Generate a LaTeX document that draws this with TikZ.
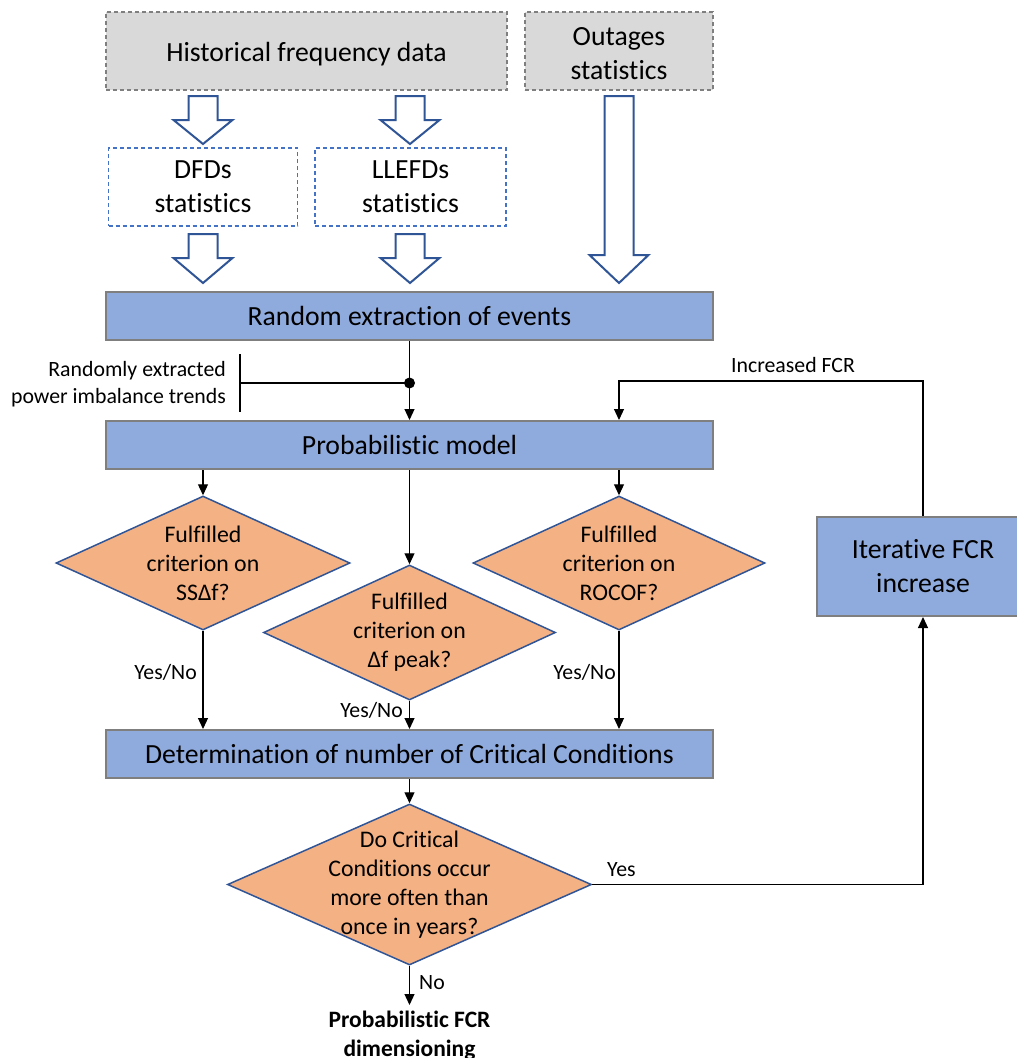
\documentclass[tikz,border=0pt]{standalone}
\usepackage{fontspec}
\setmainfont{Carlito}[RawFeature={-liga;-clig;-calt;-dlig}]
\usetikzlibrary{shapes.geometric,arrows.meta,calc}
\definecolor{grayfill}{HTML}{D9D9D9}
\definecolor{grayline}{HTML}{7F7F7F}
\definecolor{bluefill}{HTML}{8FAADC}
\definecolor{orangefill}{HTML}{F4B183}
\definecolor{darkblue}{HTML}{2F5597}
\definecolor{midblue}{HTML}{4472C4}
\tikzset{
  bigfont/.style={font=\fontsize{27.7}{34}\selectfont},
  databox/.style={draw=grayline, fill=grayfill, dash pattern=on 4pt off 3pt, line width=1.3pt, bigfont, align=center, inner sep=0pt},
  statbox/.style={draw=midblue, fill=white, dash pattern=on 4pt off 3pt, line width=1.3pt, bigfont, align=center, inner sep=0pt},
  procbox/.style={draw=grayline, fill=bluefill, line width=2pt, bigfont, align=center, inner sep=0pt},
  dia/.style={diamond, draw=darkblue, fill=orangefill, line width=1.5pt, inner sep=0pt},
  diatext/.style={font=\fontsize{23.8}{29}\selectfont, align=center, inner sep=0pt},
  lbl/.style={font=\fontsize{21.8}{27}\selectfont, inner sep=0pt},
  arr/.style={-{Triangle[length=11pt,width=10pt]}, line width=1.2pt},
  conn/.style={line width=1.2pt},
  blockarrow/.style={draw=darkblue, fill=white, line width=2pt, line join=miter}
}
\newcommand{\barrow}[4]{\draw[blockarrow] (#1-14.5,#2) -- (#1+14.5,#2) -- (#1+14.5,#3) -- (#1+29.5,#3) -- (#1,#4) -- (#1-29.5,#3) -- (#1-14.5,#3) -- cycle;}
\begin{document}
\begin{tikzpicture}[x=1pt,y=-1pt]
\useasboundingbox (0,0) rectangle (1017,1058);
% top boxes
\node[databox, minimum width=401, minimum height=78] (hist) at (306.5,51) {};
\node[bigfont, inner sep=0pt] (histt) at (306.5,54) {Historical frequency data};
\node[databox, minimum width=188, minimum height=78] (outg) at (619,51) {};
\node[bigfont, align=center, inner sep=0pt] (outgt) at (619,54) {Outages\\statistics};
\node[statbox, minimum width=189, minimum height=78] (dfd) at (203,187) {DFDs\\statistics};
\node[statbox, minimum width=191, minimum height=78] (llefd) at (410.5,187) {LLEFDs\\statistics};
% block arrows
\barrow{203}{96}{120}{144}
\barrow{410}{96}{120}{144}
\barrow{203}{234}{258}{283}
\barrow{410}{234}{258}{283}
\barrow{619}{96}{255}{283}
% process boxes
\node[procbox, minimum width=607, minimum height=48] (rand) at (409.5,316) {Random extraction of events};
\node[procbox, minimum width=607, minimum height=48] (prob) at (409.5,445) {Probabilistic model};
\node[procbox, minimum width=607, minimum height=48] (det) at (409.5,754) {Determination of number of Critical Conditions};
\node[procbox, minimum width=212, minimum height=99] (iter) at (923,566.5) {Iterative FCR\\increase};
% diamonds
\node[dia, minimum width=294, minimum height=134] (d1) at (203,563) {};
\node[diatext] (d1t) at (d1) {Fulfilled\\criterion on\\SSΔf?};
\node[dia, minimum width=292, minimum height=135] (d2) at (409.5,632.5) {};
\node[diatext] (d2t) at (d2) {Fulfilled\\criterion on\\Δf peak?};
\node[dia, minimum width=292, minimum height=134] (d3) at (619,563) {};
\node[diatext] (d3t) at (d3) {Fulfilled\\criterion on\\ROCOF?};
\node[dia, minimum width=364, minimum height=161] (d4) at (409.5,884.5) {};
\node[diatext] (d4t) at (d4) {Do Critical\\Conditions occur\\more often than\\once in years?};
% random extraction junction
\coordinate (j) at (409.5,383);
\coordinate (bt) at (240,354);
\coordinate (bb) at (240,412);
\coordinate (bm) at (240,383);
\draw[arr] (rand.south) -- (prob.north);
\draw[conn] (bt) -- (bb);
\draw[conn] (bm) -- (j);
\fill (j) circle (5.5);
\node[lbl, align=right, anchor=east] (rlbl) at (226,384) {Randomly extracted\\power imbalance trends};
% prob to diamonds
\draw[arr] (prob.south -| d1.north) -- (d1.north);
\draw[arr] (prob.south) -- (d2.north);
\draw[arr] (prob.south -| d3.north) -- (d3.north);
% diamonds to det
\draw[arr] (d1.south) -- (d1.south |- det.north);
\draw[arr] (d2.south) -- (det.north);
\draw[arr] (d3.south) -- (d3.south |- det.north);
\node[lbl, anchor=east] (yn1) at (197,672) {Yes/No};
\node[lbl, anchor=east] (yn2) at (403,710) {Yes/No};
\node[lbl, anchor=east] (yn3) at (616,672) {Yes/No};
% det to d4
\draw[arr] (det.south) -- (d4.north);
% yes loop
\draw[arr] (d4.east) -- (d4.east -| iter.south) -- (iter.south);
\node[lbl, anchor=west] (yes) at (607,870) {Yes};
\coordinate (lp) at (619,381);
\draw[arr] (iter.north) |- (lp) -- (lp |- prob.north);
\node[lbl] (incr) at (793,365) {Increased FCR};
% no
\coordinate (endp) at (409.5,1005);
\draw[arr] (d4.south) -- (endp);
\node[lbl, anchor=west] (no) at (419,983) {No};
\node[font=\bfseries\fontsize{23.5}{28.5}\selectfont, align=center, anchor=north, inner sep=0pt] (res) at (409.5,1011) {Probabilistic FCR\\dimensioning};
\end{tikzpicture}
\end{document}
